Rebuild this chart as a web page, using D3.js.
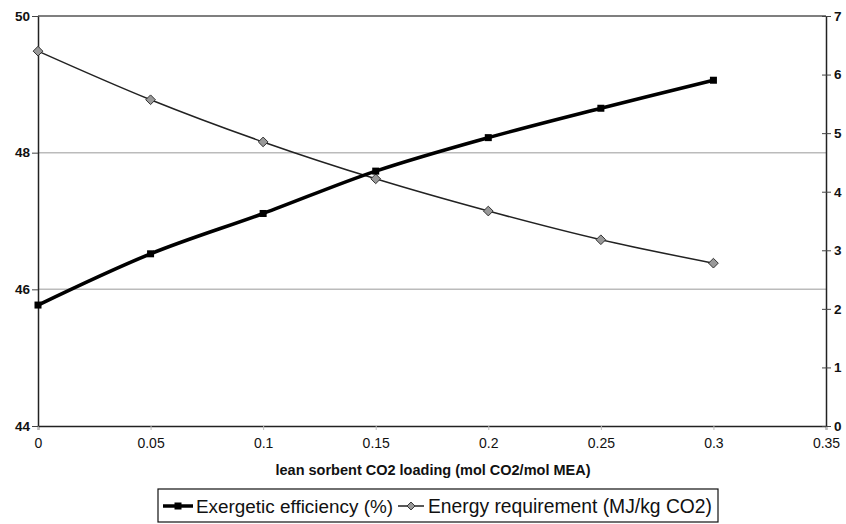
<!DOCTYPE html>
<meta charset="utf-8">
<head>
  <title>Exergetic efficiency vs lean loading</title>
</head>

<style>
body {
  margin: 0;
  background: #fff;
  font-family: "Liberation Sans", Arial, sans-serif;
}
</style>

<body>
  <svg id="chart" width="846" height="524"></svg>

  <script src="https://cdnjs.cloudflare.com/ajax/libs/d3/7.8.5/d3.min.js"></script>

  <script>
// data
var loading = [0, 0.05, 0.1, 0.15, 0.2, 0.25, 0.3];
var efficiency = [45.77, 46.52, 47.11, 47.73, 48.22, 48.65, 49.06];
var energy = [6.40, 5.57, 4.85, 4.22, 3.67, 3.18, 2.78];

var xTicks = [0, 0.05, 0.1, 0.15, 0.2, 0.25, 0.3, 0.35];
var leftTicks = [44, 46, 48, 50];
var rightTicks = [0, 1, 2, 3, 4, 5, 6, 7];

var svg = d3.select('#chart');

var plotLeft = 38, plotRight = 826, plotTop = 16, plotBottom = 426;

var x = d3.scaleLinear().domain([0, 0.35]).range([plotLeft, plotRight]);
var yL = d3.scaleLinear().domain([44, 50]).range([plotBottom, plotTop]);
var yR = d3.scaleLinear().domain([0, 7]).range([plotBottom, plotTop]);

// gridlines
svg.append('g')
  .selectAll('line')
  .data(leftTicks.filter(function(d) { return d > 44; }))
  .join('line')
  .attr('x1', plotLeft).attr('x2', plotRight)
  .attr('y1', function(d) { return yL(d); })
  .attr('y2', function(d) { return yL(d); })
  .attr('stroke', function(d) { return d === 50 ? '#555' : '#bbb'; })
  .attr('stroke-width', 1.5);

// axes
var xAxis = d3.axisBottom(x).tickValues(xTicks).tickSize(4)
  .tickFormat(function(d) { return d === 0 ? '0' : d3.format('.2~f')(d); });
var gx = svg.append('g').attr('transform', 'translate(0,' + plotBottom + ')').call(xAxis);
gx.select('.domain').attr('stroke', '#222').attr('stroke-width', 1.5);
gx.selectAll('.tick line').attr('stroke', '#bbb');
gx.selectAll('text').attr('font-size', 14).attr('fill', '#111').attr('dy', '1.1em');

var gl = svg.append('g').attr('transform', 'translate(' + plotLeft + ',0)')
  .call(d3.axisLeft(yL).tickValues(leftTicks).tickFormat(d3.format('d')).tickSize(6).tickSizeOuter(0));
gl.select('.domain').attr('stroke', '#222').attr('stroke-width', 1.5);
gl.selectAll('.tick line').attr('stroke', '#444');
gl.selectAll('text').attr('font-size', 13.5).attr('font-weight', 'bold').attr('fill', '#111').attr('x', -8);

var gr = svg.append('g').attr('transform', 'translate(' + plotRight + ',0)')
  .call(d3.axisRight(yR).tickValues(rightTicks).tickFormat(d3.format('d')).tickSize(5).tickSizeOuter(0));
gr.select('.domain').attr('stroke', '#222').attr('stroke-width', 1.5);
gr.selectAll('.tick line').attr('stroke', '#444').attr('x1', -4);
gr.selectAll('text').attr('font-size', 13.5).attr('font-weight', 'bold').attr('fill', '#111').attr('x', 8);

// axis title
svg.append('text')
  .attr('x', (plotLeft + plotRight) / 2 + 1).attr('y', 475)
  .attr('text-anchor', 'middle')
  .attr('font-size', 14.5).attr('font-weight', 'bold').attr('fill', '#111')
  .text('lean sorbent CO2 loading (mol CO2/mol MEA)');

// series
var lineEff = d3.line()
  .x(function(d, i) { return x(loading[i]); })
  .y(function(d) { return yL(d); })
  .curve(d3.curveCatmullRom);

var lineEn = d3.line()
  .x(function(d, i) { return x(loading[i]); })
  .y(function(d) { return yR(d); })
  .curve(d3.curveCatmullRom);

svg.append('path').datum(energy)
  .attr('d', lineEn).attr('fill', 'none')
  .attr('stroke', '#222').attr('stroke-width', 1.5);

svg.append('path').datum(efficiency)
  .attr('d', lineEff).attr('fill', 'none')
  .attr('stroke', '#000').attr('stroke-width', 3.5);

var diamond = d3.symbol().type(d3.symbolDiamond2).size(60);

svg.append('g').selectAll('path')
  .data(energy)
  .join('path')
  .attr('d', diamond)
  .attr('transform', function(d, i) { return 'translate(' + x(loading[i]) + ',' + yR(d) + ')'; })
  .attr('fill', '#999').attr('stroke', '#333').attr('stroke-width', 1);

svg.append('g').selectAll('rect')
  .data(efficiency)
  .join('rect')
  .attr('x', function(d, i) { return x(loading[i]) - 3.5; })
  .attr('y', function(d) { return yL(d) - 3.5; })
  .attr('width', 7).attr('height', 7)
  .attr('fill', '#000');

// legend
var leg = svg.append('g');
leg.append('rect')
  .attr('x', 158).attr('y', 489).attr('width', 560).attr('height', 33)
  .attr('fill', '#fff').attr('stroke', '#111').attr('stroke-width', 1.2);

leg.append('line').attr('x1', 163).attr('x2', 193).attr('y1', 506).attr('y2', 506)
  .attr('stroke', '#000').attr('stroke-width', 3.5);
leg.append('rect').attr('x', 174.5).attr('y', 502.5).attr('width', 7).attr('height', 7).attr('fill', '#000');
leg.append('text').attr('x', 196).attr('y', 513)
  .attr('font-size', 18.9).attr('fill', '#111')
  .text('Exergetic efficiency (%)');

leg.append('line').attr('x1', 398).attr('x2', 424).attr('y1', 506).attr('y2', 506)
  .attr('stroke', '#222').attr('stroke-width', 1.5);
leg.append('path').attr('d', d3.symbol().type(d3.symbolDiamond2).size(40))
  .attr('transform', 'translate(411,506)')
  .attr('fill', '#999').attr('stroke', '#333').attr('stroke-width', 1);
leg.append('text').attr('x', 428).attr('y', 513)
  .attr('font-size', 19.3).attr('fill', '#111')
  .text('Energy requirement (MJ/kg CO2)');
  </script>
</body>
</html>
